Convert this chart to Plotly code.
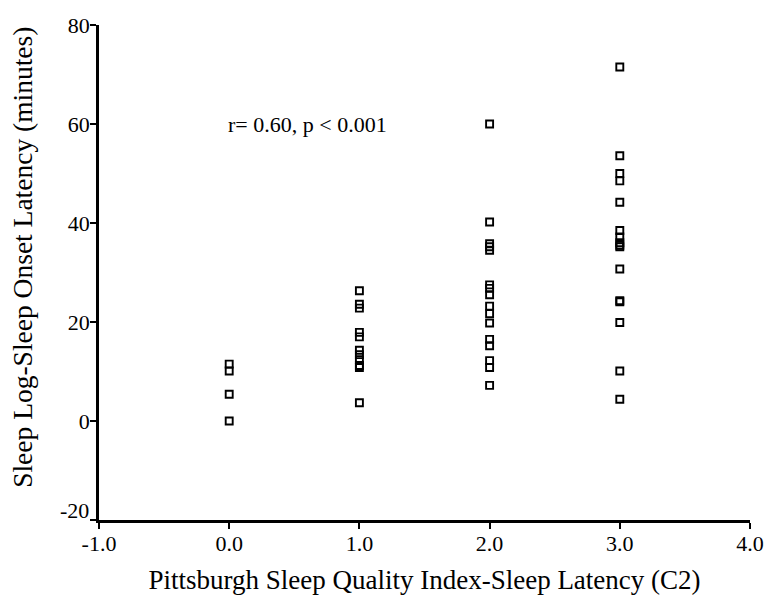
import plotly.graph_objects as go

# PSQI component 2 (sleep latency) scores and sleep log SOL values (minutes)
score_0 = [11.5, 10.1, 5.4, 0.0]
score_1 = [26.3, 23.6, 22.8, 17.9, 17.0, 14.3, 13.4, 12.4, 11.2, 10.8, 3.7]
score_2 = [60.0, 40.2, 35.8, 35.2, 34.5, 27.5, 26.8, 25.5, 23.2, 21.7, 19.8,
           16.5, 15.2, 12.2, 10.8, 7.2]
score_3 = [71.5, 53.6, 50.0, 48.5, 44.2, 38.5, 37.2, 36.0, 35.5, 35.2, 30.7,
           24.3, 24.1, 19.9, 10.1, 4.4]
groups = [0, 1, 2, 3]

x_ticks = [-1, 0, 1, 2, 3, 4]
x_tick_labels = ["-1.0", "0.0", "1.0", "2.0", "3.0", "4.0"]
y_ticks = [-20, 0, 20, 40, 60, 80]
# the lowest label is drawn slightly raised (as in the original), see below
y_tick_labels = ["", "0", "20", "40", "60", "80"]
y_low_label = "-20"

x_title = "Pittsburgh Sleep Quality Index-Sleep Latency (C2)"
y_title = "Sleep Log-Sleep Onset Latency (minutes)"

xs, ys = [], []
for g, vals in zip(groups, [score_0, score_1, score_2, score_3]):
    xs += [g] * len(vals)
    ys += vals

FONT = "Liberation Serif"

fig = go.Figure()
fig.add_trace(go.Scatter(
    x=xs, y=ys, mode="markers",
    marker=dict(symbol="square-open", size=7, color="black",
                line=dict(color="black", width=1.9)),
    showlegend=False, cliponaxis=False,
))

fig.add_annotation(x=0.6, y=60, text="r= 0.60, p < 0.001", showarrow=False,
                   xanchor="center", yanchor="middle",
                   font=dict(family=FONT, size=22, color="black"))

# raised "-20" tick label
fig.add_annotation(xref="paper", x=0, y=y_ticks[0], text=y_low_label,
                   showarrow=False, xanchor="right", yanchor="middle",
                   xshift=-8, yshift=10,
                   font=dict(family=FONT, size=22, color="black"))

# y-axis title (sits a little above the axis centre in the original)
fig.add_annotation(xref="paper", yref="paper", x=-0.118, y=0.53,
                   text=y_title, textangle=-90, showarrow=False,
                   xanchor="center", yanchor="middle",
                   font=dict(family=FONT, size=27.5, color="black"))

axis_common = dict(showline=True, linecolor="black", linewidth=2.5,
                   ticks="outside", ticklen=6, tickwidth=2, tickcolor="black",
                   showgrid=False, zeroline=False, ticklabelstandoff=-4,
                   tickfont=dict(family=FONT, size=22, color="black"))

fig.update_xaxes(range=[-1, 4], tickvals=x_ticks, ticktext=x_tick_labels,
                 title=dict(text=x_title,
                            font=dict(family=FONT, size=27, color="black"),
                            standoff=15),
                 **axis_common)
fig.update_yaxes(range=[-20, 80], tickvals=y_ticks, ticktext=y_tick_labels,
                 **axis_common)

fig.update_layout(width=767, height=608,
                  margin=dict(l=99, r=17, t=25, b=88, autoexpand=False),
                  plot_bgcolor="white", paper_bgcolor="white")

fig.write_html("out.html", config={"displayModeBar": False},
               post_script="document.body.style.margin='0';document.body.style.overflow='hidden';")
